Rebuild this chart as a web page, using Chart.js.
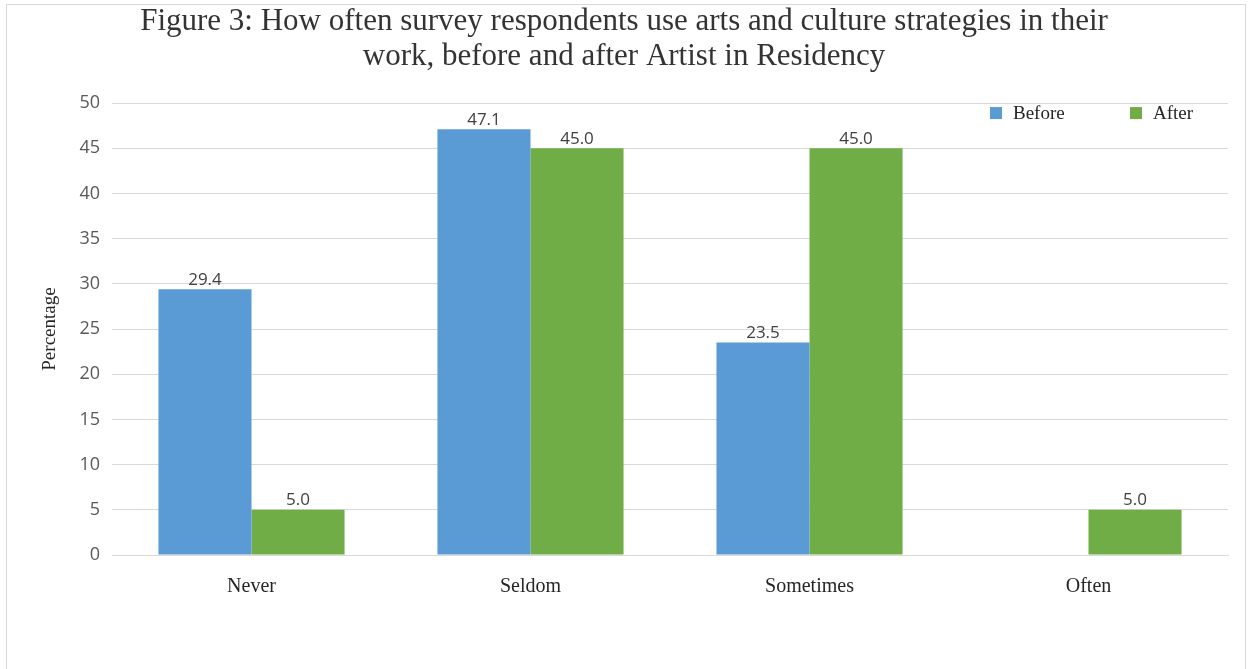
<!DOCTYPE html>
<html>
<head>
<meta charset="utf-8">
<script src="https://cdn.jsdelivr.net/npm/chart.js@4.4.1/dist/chart.umd.min.js"></script>
<style>
  html, body { margin: 0; padding: 0; background: #fff; }
  #wrap { position: absolute; left: 0; top: 0; width: 1253px; height: 669px; }
  #frame { position: absolute; left: 6px; top: 4px; width: 1238px; height: 680px;
           border: 1px solid #d9d9d9; pointer-events: none; }
</style>
</head>
<body>
<div id="wrap"><canvas id="barChart"></canvas></div>
<div id="frame"></div>
<script>
var categories = ["Never", "Seldom", "Sometimes", "Often"];
var beforeValues = [29.4, 47.1, 23.5, null];
var afterValues = [5.0, 45.0, 45.0, 5.0];
var yTicks = [0, 5, 10, 15, 20, 25, 30, 35, 40, 45, 50];

var serif = "'Liberation Serif', 'DejaVu Serif', serif";
var sans = "'Open Sans', 'Noto Sans', sans-serif";

// value printed above each bar, one decimal
var barLabels = {
  id: 'barLabels',
  afterDatasetsDraw: function(chart) {
    var c = chart.ctx;
    c.save();
    c.font = "17px " + sans;
    c.fillStyle = "#404040";
    c.textAlign = "center";
    c.textBaseline = "bottom";
    chart.data.datasets.forEach(function(ds, i) {
      chart.getDatasetMeta(i).data.forEach(function(bar, j) {
        var v = ds.data[j];
        if (v === null || v === undefined) return;
        c.fillText(v.toFixed(1), bar.x, bar.y - 1);
      });
    });
    c.restore();
  }
};

// legend sits inside the plot, top right, over the gridlines
var innerLegend = {
  id: 'innerLegend',
  afterDraw: function(chart) {
    var c = chart.ctx;
    var area = chart.chartArea;
    var xs = [area.right - 238, area.right - 98];
    var y = area.top + 10;
    c.save();
    c.font = "19px " + serif;
    c.textBaseline = "middle";
    c.textAlign = "left";
    chart.data.datasets.forEach(function(ds, i) {
      c.fillStyle = ds.backgroundColor;
      c.fillRect(xs[i], y - 6, 12, 12);
      c.fillStyle = "#262626";
      c.fillText(ds.label, xs[i] + 23, y + 1);
    });
    c.restore();
  }
};

var ctx = document.getElementById("barChart");
var barChart = new Chart(ctx, {
  type: 'bar',
  plugins: [barLabels, innerLegend],
  data: {
    labels: categories,
    datasets: [{
      label: 'Before',
      data: beforeValues,
      backgroundColor: '#5b9bd5'
    }, {
      label: 'After',
      data: afterValues,
      backgroundColor: '#70ad47'
    }]
  },
  options: {
    responsive: true,
    maintainAspectRatio: false,
    animation: false,
    layout: { padding: { left: 20, right: 25, top: 4, bottom: 58 } },
    datasets: {
      bar: { categoryPercentage: 0.667, barPercentage: 1.0 }
    },
    plugins: {
      tooltip: { enabled: false },
      legend: { display: false },
      title: {
        display: true,
        text: ["Figure 3: How often survey respondents use arts and culture strategies in their",
               "work, before and after Artist in Residency"],
        font: { family: serif, size: 31, weight: 'normal', lineHeight: 1.13 },
        color: '#333333',
        padding: { top: 0, bottom: 29 }
      }
    },
    scales: {
      x: {
        grid: { display: false },
        border: { color: '#d9d9d9' },
        ticks: {
          color: '#262626',
          padding: 12,
          font: { family: serif, size: 20 }
        }
      },
      y: {
        min: 0,
        max: 50,
        afterBuildTicks: function(scale) {
          scale.ticks = yTicks.map(function(v) { return { value: v }; });
        },
        afterFit: function(scale) { scale.width = 92; },
        grid: { color: '#d9d9d9', drawTicks: false },
        border: { display: false },
        ticks: {
          color: '#595959',
          padding: 12,
          font: { family: sans, size: 18 }
        },
        title: {
          display: true,
          text: 'Percentage',
          color: '#262626',
          padding: { top: 19, bottom: 0 },
          font: { family: serif, size: 19 }
        }
      }
    }
  }
});
</script>
</body>
</html>
